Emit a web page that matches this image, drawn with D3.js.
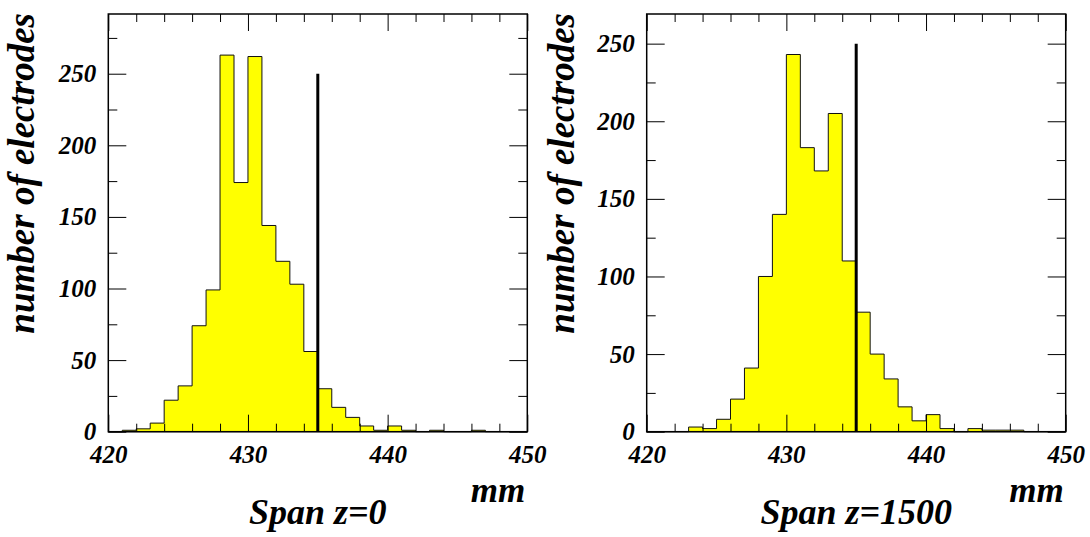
<!DOCTYPE html>
<html>
<head>
<meta charset="utf-8">
<script src="https://cdn.jsdelivr.net/npm/d3@7"></script>
<style>
  html, body { margin: 0; padding: 0; background: #fff; }
  svg { display: block; }
  text { font-family: "Liberation Serif", "Times New Roman", serif; font-weight: bold; font-style: italic; fill: #000; }
</style>
</head>
<body>
<svg id="chart" width="1090" height="537"></svg>
<script>
// ---- data ----
const binStarts = [420,421,422,423,424,425,426,427,428,429,430,431,432,433,434,435,436,437,438,439,440,441,442,443,444,445,446,447,448,449];
const countsZ0 = [0,1,2,6,22,32,74,99,263,174,262,144,119,103,56,30,17,10,4,1,4,1,0,1,0,0,1,0,0,0];
const countsZ1500 = [0,0,0,3,2,8,21,41,100,140,243,183,168,205,110,77,50,34,16,7,11,2,0,2,1,1,1,0,0,0];
const xMajorTicks = [420,430,440,450];
const xMinorTicks = [422,424,426,428,432,434,436,438,442,444,446,448];
const yMajorTicks = [0,50,100,150,200,250];
const yMinorTicks = [25,75,125,175,225,275];
const titles = ["Span z=0", "Span z=1500"];
const yTitle = "number of electrodes";
const xUnit = "mm";
const nominalValue = 435;
const nominalHeight = 250;
const xDomain = [420, 450];
const yMaxes = [291.7, 269.1];

// ---- layout ----
const panels = [
  { x0: 108.3, x1: 527.3, ylabX: 34, counts: countsZ0, ymax: yMaxes[0], title: titles[0] },
  { x0: 646.7, x1: 1065.7, ylabX: 574, counts: countsZ1500, ymax: yMaxes[1], title: titles[1] }
];
const yTop = 14, yBot = 431.7;

const svg = d3.select("#chart");
svg.append("rect").attr("width", 1090).attr("height", 537).attr("fill", "#fff");

panels.forEach(p => {
  const x = d3.scaleLinear().domain(xDomain).range([p.x0, p.x1]);
  const y = d3.scaleLinear().domain([0, p.ymax]).range([yBot, yTop]);
  const g = svg.append("g");
  const yMinor = yMinorTicks.filter(v => v <= p.ymax);
  const yMajor = yMajorTicks.filter(v => v <= p.ymax);

  // histogram step outline
  const pts = [[binStarts[0], 0]];
  binStarts.forEach((b, i) => {
    pts.push([b, p.counts[i]]);
    pts.push([b + 1, p.counts[i]]);
  });
  pts.push([binStarts[binStarts.length - 1] + 1, 0]);
  const line = d3.line().x(d => x(d[0])).y(d => y(d[1]));
  g.append("path")
    .attr("d", line(pts) + "Z")
    .attr("fill", "#ffff00")
    .attr("stroke", "#111")
    .attr("stroke-width", 1);

  // axes (ticks inward on all four sides)
  const styleAxis = sel => {
    sel.select(".domain").remove();
    sel.selectAll(".tick line").attr("stroke", "#000").attr("stroke-width", 1);
  };
  g.append("g").attr("transform", `translate(0,${yBot})`)
    .call(d3.axisBottom(x).tickValues(xMajorTicks).tickSize(-17).tickPadding(14).tickFormat(d3.format("d")))
    .call(styleAxis)
    .selectAll("text").attr("font-size", 25).attr("font-family", null);
  g.append("g").attr("transform", `translate(0,${yBot})`)
    .call(d3.axisBottom(x).tickValues(xMinorTicks).tickSize(-8).tickFormat(""))
    .call(styleAxis);
  g.append("g").attr("transform", `translate(0,${yTop})`)
    .call(d3.axisTop(x).tickValues(xMajorTicks).tickSize(-17).tickFormat(""))
    .call(styleAxis);
  g.append("g").attr("transform", `translate(0,${yTop})`)
    .call(d3.axisTop(x).tickValues(xMinorTicks).tickSize(-8).tickFormat(""))
    .call(styleAxis);

  g.append("g").attr("transform", `translate(${p.x0},0)`)
    .call(d3.axisLeft(y).tickValues(yMajor).tickSize(-18).tickPadding(12).tickFormat(d3.format("d")))
    .call(styleAxis)
    .selectAll("text").attr("font-size", 25).attr("font-family", null);
  g.append("g").attr("transform", `translate(${p.x0},0)`)
    .call(d3.axisLeft(y).tickValues(yMinor).tickSize(-9).tickFormat(""))
    .call(styleAxis);
  g.append("g").attr("transform", `translate(${p.x1},0)`)
    .call(d3.axisRight(y).tickValues(yMajor).tickSize(-18).tickFormat(""))
    .call(styleAxis);
  g.append("g").attr("transform", `translate(${p.x1},0)`)
    .call(d3.axisRight(y).tickValues(yMinor).tickSize(-9).tickFormat(""))
    .call(styleAxis);

  // nominal line
  g.append("line")
    .attr("x1", x(nominalValue)).attr("x2", x(nominalValue))
    .attr("y1", y(0)).attr("y2", y(nominalHeight))
    .attr("stroke", "#000").attr("stroke-width", 3);

  // frame
  g.append("rect")
    .attr("x", p.x0).attr("y", yTop)
    .attr("width", p.x1 - p.x0).attr("height", yBot - yTop)
    .attr("fill", "none").attr("stroke", "#000").attr("stroke-width", 1.5);

  // labels
  g.append("text")
    .attr("transform", `translate(${p.ylabX},13) rotate(-90)`)
    .attr("text-anchor", "end")
    .attr("font-size", 37)
    .text(yTitle);
  g.append("text")
    .attr("x", p.x1 - 2).attr("y", 502)
    .attr("text-anchor", "end")
    .attr("font-size", 35)
    .text(xUnit);
  g.append("text")
    .attr("x", (p.x0 + p.x1) / 2).attr("y", 524)
    .attr("text-anchor", "middle")
    .attr("font-size", 36)
    .text(p.title);
});
</script>
</body>
</html>
